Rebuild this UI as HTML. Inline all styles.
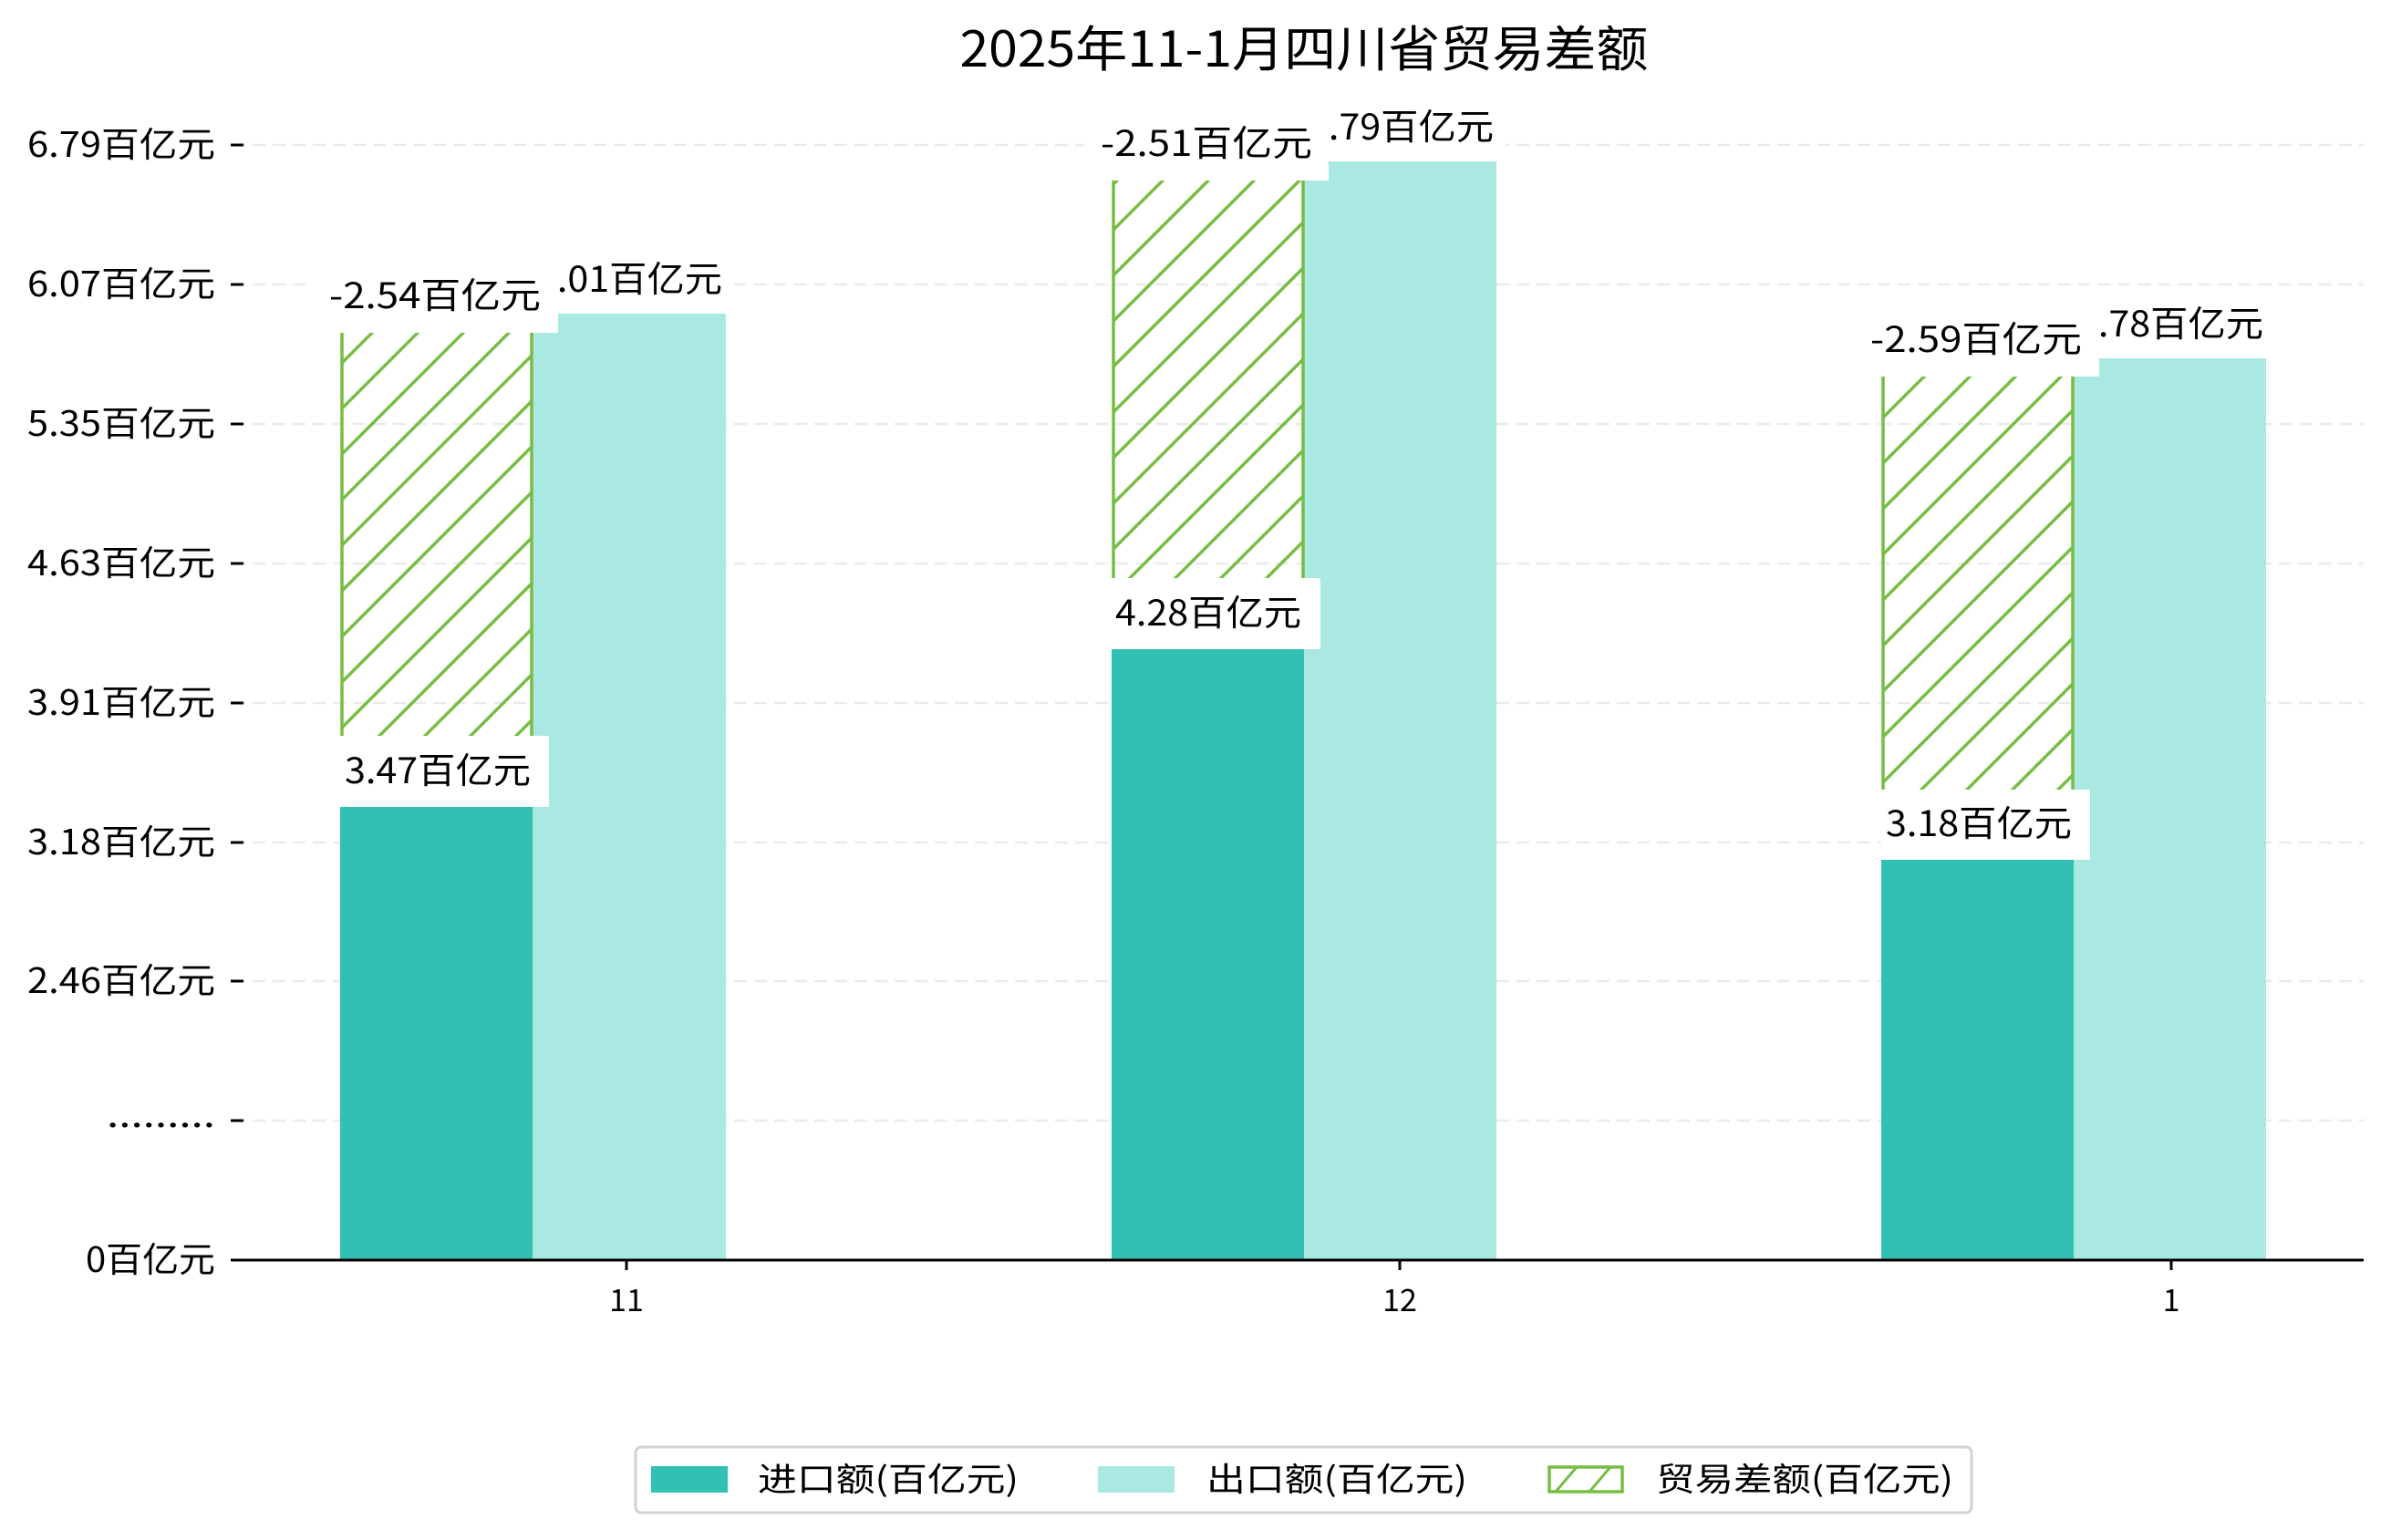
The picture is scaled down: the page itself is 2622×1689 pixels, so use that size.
<!DOCTYPE html>
<html><head><meta charset="utf-8"><style>
html,body{margin:0;padding:0;background:#fff;}
svg{display:block;}
text{font-family:"WenQuanYi Zen Hei","Noto Sans CJK SC",sans-serif;fill:#000;}
</style></head><body>
<svg width="2622" height="1689" viewBox="0 0 2622 1689" xmlns="http://www.w3.org/2000/svg">
<defs>
<pattern id="h" patternUnits="userSpaceOnUse" width="50" height="50" patternTransform="translate(373,0)">
<path d="M-5,55 L55,-5 M-30,30 L30,-30 M20,80 L80,20" stroke="#77bd44" stroke-width="3.5" fill="none"/>
</pattern>
</defs>
<text x="1430" y="73" font-size="54" text-anchor="middle" textLength="755" lengthAdjust="spacingAndGlyphs">2025年11-1月四川省贸易差额</text>
<g stroke="#ebebeb" stroke-width="2.5" stroke-dasharray="14,8">
<line x1="255" y1="159" x2="2592" y2="159"/><line x1="255" y1="312" x2="2592" y2="312"/>
<line x1="255" y1="465" x2="2592" y2="465"/><line x1="255" y1="618" x2="2592" y2="618"/>
<line x1="255" y1="771" x2="2592" y2="771"/><line x1="255" y1="924" x2="2592" y2="924"/>
<line x1="255" y1="1076" x2="2592" y2="1076"/><line x1="255" y1="1229" x2="2592" y2="1229"/>
</g>
<g stroke="#000" stroke-width="3">
<line x1="253" y1="159" x2="267" y2="159"/><line x1="253" y1="312" x2="267" y2="312"/>
<line x1="253" y1="465" x2="267" y2="465"/><line x1="253" y1="618" x2="267" y2="618"/>
<line x1="253" y1="771" x2="267" y2="771"/><line x1="253" y1="924" x2="267" y2="924"/>
<line x1="253" y1="1076" x2="267" y2="1076"/><line x1="253" y1="1229" x2="267" y2="1229"/>
</g>
<g font-size="38" text-anchor="end">
<text x="236" y="172" textLength="206" lengthAdjust="spacingAndGlyphs">6.79百亿元</text>
<text x="236" y="325" textLength="206" lengthAdjust="spacingAndGlyphs">6.07百亿元</text>
<text x="236" y="478" textLength="206" lengthAdjust="spacingAndGlyphs">5.35百亿元</text>
<text x="236" y="631" textLength="206" lengthAdjust="spacingAndGlyphs">4.63百亿元</text>
<text x="236" y="784" textLength="206" lengthAdjust="spacingAndGlyphs">3.91百亿元</text>
<text x="236" y="937" textLength="206" lengthAdjust="spacingAndGlyphs">3.18百亿元</text>
<text x="236" y="1089" textLength="206" lengthAdjust="spacingAndGlyphs">2.46百亿元</text>
<text x="236" y="1236" textLength="119" lengthAdjust="spacingAndGlyphs">.........</text>
<text x="236" y="1395" textLength="142" lengthAdjust="spacingAndGlyphs">0百亿元</text>
</g>
<g fill="#31c0b3">
<rect x="373" y="883" width="211" height="499"/>
<rect x="1219" y="710" width="211" height="672"/>
<rect x="2063" y="941" width="211" height="441"/>
</g>
<g fill="#aae8e2">
<rect x="584" y="344" width="212" height="1038"/>
<rect x="1430" y="177" width="211" height="1205"/>
<rect x="2274" y="393" width="211" height="989"/>
</g>
<g fill="url(#h)">
<rect x="374" y="363" width="210" height="520"/>
<rect x="1220" y="196" width="210" height="514"/>
<rect x="2064" y="411" width="210" height="530"/>
</g>
<g stroke="#77bd44" stroke-width="3.5">
<line x1="375" y1="363" x2="375" y2="883"/><line x1="583" y1="363" x2="583" y2="883"/>
<line x1="1221" y1="196" x2="1221" y2="710"/><line x1="1429" y1="196" x2="1429" y2="710"/>
<line x1="2065" y1="411" x2="2065" y2="941"/><line x1="2273" y1="411" x2="2273" y2="941"/>
</g>
<line x1="253" y1="1382" x2="2592" y2="1382" stroke="#000" stroke-width="3"/>
<g stroke="#000" stroke-width="3">
<line x1="687" y1="1382" x2="687" y2="1393"/><line x1="1535" y1="1382" x2="1535" y2="1393"/><line x1="2381" y1="1382" x2="2381" y2="1393"/>
</g>
<g font-size="34" text-anchor="middle">
<text x="687" y="1438">11</text><text x="1535" y="1438">12</text><text x="2381" y="1438">1</text>
</g>
<g font-size="39" text-anchor="middle">
<rect x="373" y="807" width="229" height="78" fill="#fff"/><text x="480" y="859" textLength="204" lengthAdjust="spacingAndGlyphs">3.47百亿元</text>
<rect x="1219" y="634" width="229" height="78" fill="#fff"/><text x="1325" y="686" textLength="204" lengthAdjust="spacingAndGlyphs">4.28百亿元</text>
<rect x="2063" y="866" width="229" height="77" fill="#fff"/><text x="2170" y="917" textLength="204" lengthAdjust="spacingAndGlyphs">3.18百亿元</text>

<rect x="575" y="268" width="230" height="76" fill="#fff"/><text x="690" y="320" textLength="204" lengthAdjust="spacingAndGlyphs">6.01百亿元</text>
<rect x="1421" y="101" width="230" height="76" fill="#fff"/><text x="1536" y="153" textLength="204" lengthAdjust="spacingAndGlyphs">6.79百亿元</text>
<rect x="2265" y="317" width="230" height="76" fill="#fff"/><text x="2380" y="369" textLength="204" lengthAdjust="spacingAndGlyphs">5.78百亿元</text>

<rect x="343" y="287" width="269" height="78" fill="#fff"/><text x="477" y="338" textLength="232" lengthAdjust="spacingAndGlyphs">-2.54百亿元</text>
<rect x="1189" y="120" width="268" height="78" fill="#fff"/><text x="1323" y="171" textLength="232" lengthAdjust="spacingAndGlyphs">-2.51百亿元</text>
<rect x="2032" y="335" width="270" height="78" fill="#fff"/><text x="2167" y="386" textLength="232" lengthAdjust="spacingAndGlyphs">-2.59百亿元</text>
</g>
<rect x="697" y="1587" width="1465" height="72" rx="6" fill="#fff" stroke="#d2d2d2" stroke-width="3"/>
<rect x="714" y="1608" width="84" height="29" fill="#31c0b3"/>
<rect x="1204" y="1608" width="84" height="29" fill="#aae8e2"/>
<rect x="1699" y="1609" width="80" height="27" fill="#fff" stroke="#77bd44" stroke-width="3.5"/>
<path d="M1706,1636 L1729,1609 M1743,1636 L1766,1609" stroke="#77bd44" stroke-width="3"/>
<g font-size="36">
<text x="831" y="1635" textLength="286" lengthAdjust="spacingAndGlyphs">进口额(百亿元)</text>
<text x="1323" y="1635" textLength="286" lengthAdjust="spacingAndGlyphs">出口额(百亿元)</text>
<text x="1816" y="1635" textLength="326" lengthAdjust="spacingAndGlyphs">贸易差额(百亿元)</text>
</g>
</svg>
</body></html>
